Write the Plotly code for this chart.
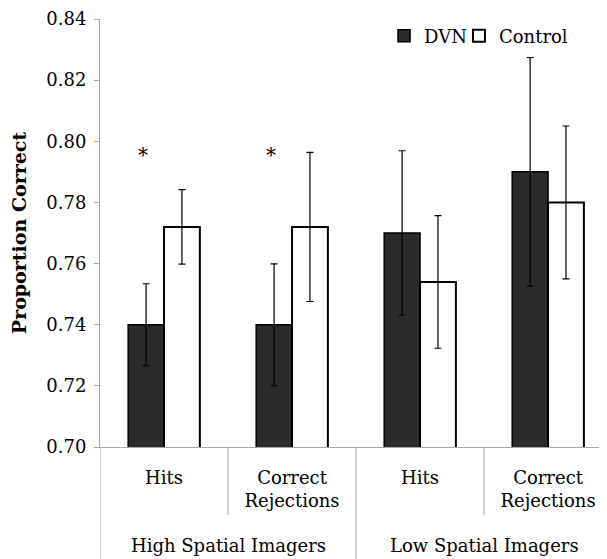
import plotly.graph_objects as go

categories = ["Hits", "Correct<br>Rejections", "Hits", "Correct<br>Rejections"]
groups = ["High Spatial Imagers", "Low Spatial Imagers"]
dvn_values = [0.740, 0.740, 0.770, 0.790]
dvn_errors = [0.0134, 0.0199, 0.0269, 0.0374]
control_values = [0.772, 0.772, 0.754, 0.780]
control_errors = [0.0122, 0.0244, 0.0217, 0.0250]
y_ticks = [0.70, 0.72, 0.74, 0.76, 0.78, 0.80, 0.82, 0.84]
star_categories = [0, 1]
star_level = 0.7955

FONT = "DejaVu Serif"
GRAY = "#a6a6a6"

fig = go.Figure()
xs = list(range(len(categories)))
fig.add_trace(go.Bar(
    x=xs, y=dvn_values, name="DVN", legend="legend", showlegend=True,
    marker=dict(color="#2b2b2b", line=dict(color="#000000", width=1.5)),
    error_y=dict(type="data", array=dvn_errors, color="#000000", thickness=1.2, width=3.5),
))
fig.add_trace(go.Bar(
    x=xs, y=control_values, name="Control", legend="legend2", showlegend=True,
    marker=dict(color="#ffffff", line=dict(color="#000000", width=2)),
    error_y=dict(type="data", array=control_errors, color="#000000", thickness=1.2, width=3.5),
))

# page body adds an 8px offset; geometry below is in figure pixels
top_px, bottom_px, height = 11, 439, 559
plot_h = bottom_px - top_px
full_depth = -(height - bottom_px) / plot_h
inner_depth = -(507 - bottom_px) / plot_h

shapes = []
n = len(categories)
for i in range(n):
    xb = i - 0.5
    depth = full_depth if i % 2 == 0 else inner_depth
    shapes.append(dict(type="line", xref="x", yref="paper", x0=xb, x1=xb, y0=0, y1=depth,
                       line=dict(color=GRAY, width=1)))

annotations = []
for gi, g in enumerate(groups):
    annotations.append(dict(text=g, x=gi * 2 + 0.5, xref="x", y=-(537 - bottom_px) / plot_h,
                            yref="paper", showarrow=False, yanchor="middle",
                            font=dict(family=FONT, size=18, color="#000")))
for c in star_categories:
    annotations.append(dict(text="*", x=c, xref="x", y=star_level, yref="y", showarrow=False,
                            xshift=-21, yanchor="middle", font=dict(family=FONT, size=20, color="#000")))

legend_common = dict(orientation="h", xanchor="left", y=0.96, yanchor="middle",
                     font=dict(family=FONT, size=18), bgcolor="rgba(0,0,0,0)", visible=True)

fig.update_layout(
    width=607, height=559,
    margin=dict(l=92, r=0, t=top_px, b=height - bottom_px),
    paper_bgcolor="white", plot_bgcolor="white",
    barmode="group", bargap=0.44, bargroupgap=0,
    font=dict(family=FONT, size=18, color="#000"),
    showlegend=True,
    shapes=shapes, annotations=annotations,
    legend=dict(x=0.5515, **legend_common),
    legend2=dict(x=0.697, **legend_common),
    xaxis=dict(range=[-0.5, 3.523], tickmode="array", tickvals=xs, ticktext=categories,
               showline=True, linecolor=GRAY, linewidth=1, ticks="", showgrid=False,
               zeroline=False, ticklabelstandoff=14, automargin=False,
               tickfont=dict(family=FONT, size=18)),
    yaxis=dict(range=[0.70, 0.84], tickvals=y_ticks, tickformat=".2f",
               showline=True, linecolor=GRAY, linewidth=1, ticks="outside", ticklen=5,
               tickcolor=GRAY, showgrid=False, zeroline=False, automargin=False,
               ticklabelstandoff=4, tickfont=dict(family=FONT, size=18),
               title=dict(text="<b>Proportion Correct</b>", font=dict(family=FONT, size=19), standoff=27)),
)

fig.write_html("out.html")
